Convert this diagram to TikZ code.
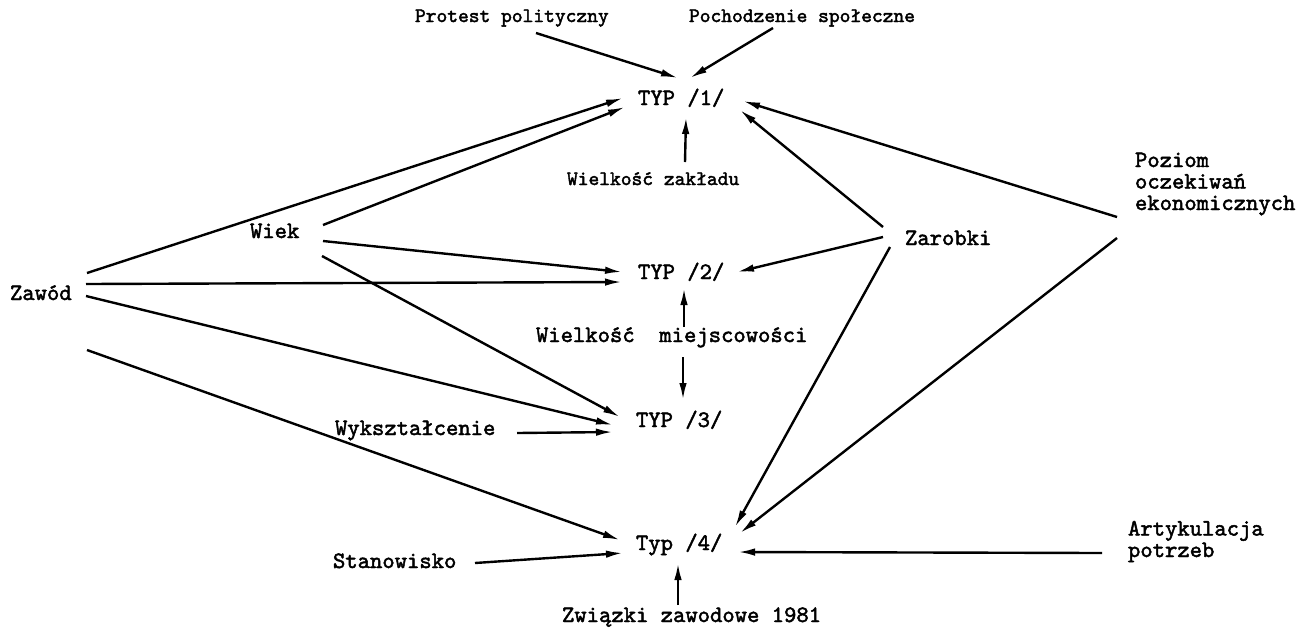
\documentclass[tikz,border=0pt]{standalone}
\usepackage{fontspec}
\newfontfamily\tw{lmmono10-regular.otf}[FakeBold=2]
\usetikzlibrary{arrows.meta}
\begin{document}
\begin{tikzpicture}[x=1pt,y=-1pt,
  lab/.style={inner sep=0pt,outer sep=0pt,anchor=base west,font=\fontsize{23.5}{21.5}\selectfont\tw},
  small/.style={lab,font=\fontsize{20.5}{20}\selectfont\tw},
  arr/.style={line width=2.4pt,-{Latex[length=17pt,width=7.5pt]}}]
\useasboundingbox[fill=white] (0,0) rectangle (1305,630);
% nodes
\node[small] (prot) at (415,22) {Protest polityczny};
\node[small] (poch) at (689,22) {Pochodzenie społeczne};
\node[lab] (t1) at (638,105) {TYP /1/};
\node[small] (wz) at (567,185) {Wielkość zakładu};
\node[lab] (wiek) at (250,238) {Wiek};
\node[lab] (zar) at (905,245) {Zarobki};
\node[lab,align=left] (poz) at (1135,210) {Poziom\\oczekiwań\\ekonomicznych};
\node[lab] (zawod) at (10,300) {Zawód};
\node[lab] (t2) at (638,279) {TYP /2/};
\node[lab] (wm) at (536,342) {Wielkość\ \ miejscowości};
\node[lab] (t3) at (636,427) {TYP /3/};
\node[lab] (wyk) at (335,435) {Wykształcenie};
\node[lab] (t4) at (636,550) {Typ /4/};
\node[lab] (stan) at (333,568) {Stanowisko};
\node[lab,align=left] (art) at (1128,557) {Artykulacja\\potrzeb};
\node[lab] (zw) at (562,622) {Związki zawodowe 1981};
% arrows to TYP 1
\draw[arr] ([shift={(121,11)}]prot.base west) -- ([shift={(40,-27)}]t1.base west);
\draw[arr] ([shift={(84,6)}]poch.base west) -- ([shift={(52,-27)}]t1.base west);
\draw[arr] ([shift={(77,-27)}]zawod.base west) -- ([shift={(-15,-7)}]t1.base west);
\draw[arr] ([shift={(73,-13)}]wiek.base west) -- ([shift={(-13,2)}]t1.base west);
\draw[arr] ([shift={(118,-23)}]wz.base west) -- ([shift={(48,12)}]t1.base west);
\draw[arr] ([shift={(-22,-18)}]zar.base west) -- ([shift={(102,5)}]t1.base west);
\draw[arr] ([shift={(-18,7)}]poz.base west) -- ([shift={(105,-4)}]t1.base west);
% arrows to TYP 2
\draw[arr] ([shift={(73,3)}]wiek.base west) -- ([shift={(-16,-7)}]t2.base west);
\draw[arr] ([shift={(76,-16)}]zawod.base west) -- ([shift={(-16,3)}]t2.base west);
\draw[arr] ([shift={(-22,-8)}]zar.base west) -- ([shift={(99,-7)}]t2.base west);
\draw[arr] ([shift={(148,-15)}]wm.base west) -- ([shift={(46,9)}]t2.base west);
% arrows to TYP 3
\draw[arr] ([shift={(147,15)}]wm.base west) -- ([shift={(47,-27)}]t3.base west);
\draw[arr] ([shift={(72,18)}]wiek.base west) -- ([shift={(-16,-10)}]t3.base west);
\draw[arr] ([shift={(76,-4)}]zawod.base west) -- ([shift={(-23,-2)}]t3.base west);
\draw[arr] ([shift={(182,-2)}]wyk.base west) -- ([shift={(-23,5)}]t3.base west);
% arrows to Typ 4
\draw[arr] ([shift={(77,50)}]zawod.base west) -- ([shift={(-16,-10)}]t4.base west);
\draw[arr] ([shift={(142,-5)}]stan.base west) -- ([shift={(-13,3)}]t4.base west);
\draw[arr] ([shift={(-15,2)}]zar.base west) -- ([shift={(99,-23)}]t4.base west);
\draw[arr] ([shift={(-18,28)}]poz.base west) -- ([shift={(104,-17)}]t4.base west);
\draw[arr] ([shift={(-26,-4)}]art.base west) -- ([shift={(102,2)}]t4.base west);
\draw[arr] ([shift={(116,-17)}]zw.base west) -- ([shift={(42,13)}]t4.base west);
\end{tikzpicture}
\end{document}
